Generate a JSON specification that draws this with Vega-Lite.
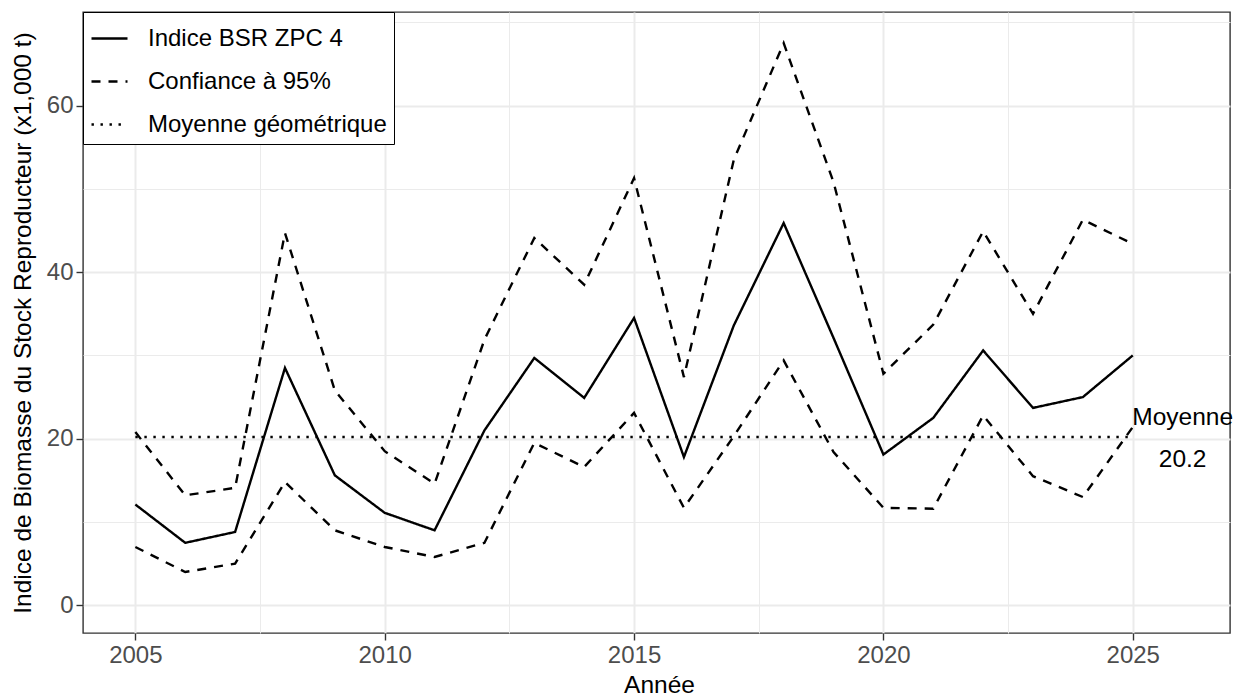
{
  "$schema": "https://vega.github.io/schema/vega-lite/v6.json",
  "autosize": "none",
  "width": 1147,
  "height": 621,
  "padding": {"left": 83, "top": 12, "right": 8, "bottom": 63},
  "background": "white",
  "config": {
    "font": "Liberation Sans",
    "view": {"stroke": "#333333", "strokeWidth": 1.4},
    "axis": {
      "domain": false,
      "tickColor": "#333333",
      "tickWidth": 1.4,
      "tickSize": 7,
      "labelColor": "#4D4D4D",
      "labelFont": "Liberation Sans",
      "labelFontSize": 24,
      "labelPadding": 3,
      "titleFont": "Liberation Sans",
      "titleFontSize": 24.5,
      "titleFontWeight": "normal",
      "titleColor": "black",
      "gridColor": "#EBEBEB"
    }
  },
  "datasets": {
    "bsr": [
      {"annee": 2005, "valeur": 12.1, "serie": "Indice BSR ZPC 4", "groupe": "indice"},
      {"annee": 2006, "valeur": 7.5, "serie": "Indice BSR ZPC 4", "groupe": "indice"},
      {"annee": 2007, "valeur": 8.8, "serie": "Indice BSR ZPC 4", "groupe": "indice"},
      {"annee": 2008, "valeur": 28.5, "serie": "Indice BSR ZPC 4", "groupe": "indice"},
      {"annee": 2009, "valeur": 15.6, "serie": "Indice BSR ZPC 4", "groupe": "indice"},
      {"annee": 2010, "valeur": 11.1, "serie": "Indice BSR ZPC 4", "groupe": "indice"},
      {"annee": 2011, "valeur": 9.0, "serie": "Indice BSR ZPC 4", "groupe": "indice"},
      {"annee": 2012, "valeur": 21.0, "serie": "Indice BSR ZPC 4", "groupe": "indice"},
      {"annee": 2013, "valeur": 29.7, "serie": "Indice BSR ZPC 4", "groupe": "indice"},
      {"annee": 2014, "valeur": 24.9, "serie": "Indice BSR ZPC 4", "groupe": "indice"},
      {"annee": 2015, "valeur": 34.5, "serie": "Indice BSR ZPC 4", "groupe": "indice"},
      {"annee": 2016, "valeur": 17.8, "serie": "Indice BSR ZPC 4", "groupe": "indice"},
      {"annee": 2017, "valeur": 33.6, "serie": "Indice BSR ZPC 4", "groupe": "indice"},
      {"annee": 2018, "valeur": 45.9, "serie": "Indice BSR ZPC 4", "groupe": "indice"},
      {"annee": 2019, "valeur": 32.1, "serie": "Indice BSR ZPC 4", "groupe": "indice"},
      {"annee": 2020, "valeur": 18.1, "serie": "Indice BSR ZPC 4", "groupe": "indice"},
      {"annee": 2021, "valeur": 22.5, "serie": "Indice BSR ZPC 4", "groupe": "indice"},
      {"annee": 2022, "valeur": 30.6, "serie": "Indice BSR ZPC 4", "groupe": "indice"},
      {"annee": 2023, "valeur": 23.7, "serie": "Indice BSR ZPC 4", "groupe": "indice"},
      {"annee": 2024, "valeur": 25.0, "serie": "Indice BSR ZPC 4", "groupe": "indice"},
      {"annee": 2025, "valeur": 30.0, "serie": "Indice BSR ZPC 4", "groupe": "indice"},
      {"annee": 2005, "valeur": 7.0, "serie": "Confiance à 95%", "groupe": "inf"},
      {"annee": 2006, "valeur": 4.0, "serie": "Confiance à 95%", "groupe": "inf"},
      {"annee": 2007, "valeur": 5.0, "serie": "Confiance à 95%", "groupe": "inf"},
      {"annee": 2008, "valeur": 14.8, "serie": "Confiance à 95%", "groupe": "inf"},
      {"annee": 2009, "valeur": 9.0, "serie": "Confiance à 95%", "groupe": "inf"},
      {"annee": 2010, "valeur": 7.0, "serie": "Confiance à 95%", "groupe": "inf"},
      {"annee": 2011, "valeur": 5.8, "serie": "Confiance à 95%", "groupe": "inf"},
      {"annee": 2012, "valeur": 7.5, "serie": "Confiance à 95%", "groupe": "inf"},
      {"annee": 2013, "valeur": 19.5, "serie": "Confiance à 95%", "groupe": "inf"},
      {"annee": 2014, "valeur": 16.6, "serie": "Confiance à 95%", "groupe": "inf"},
      {"annee": 2015, "valeur": 23.1, "serie": "Confiance à 95%", "groupe": "inf"},
      {"annee": 2016, "valeur": 11.7, "serie": "Confiance à 95%", "groupe": "inf"},
      {"annee": 2017, "valeur": 20.3, "serie": "Confiance à 95%", "groupe": "inf"},
      {"annee": 2018, "valeur": 29.4, "serie": "Confiance à 95%", "groupe": "inf"},
      {"annee": 2019, "valeur": 18.4, "serie": "Confiance à 95%", "groupe": "inf"},
      {"annee": 2020, "valeur": 11.7, "serie": "Confiance à 95%", "groupe": "inf"},
      {"annee": 2021, "valeur": 11.6, "serie": "Confiance à 95%", "groupe": "inf"},
      {"annee": 2022, "valeur": 22.8, "serie": "Confiance à 95%", "groupe": "inf"},
      {"annee": 2023, "valeur": 15.5, "serie": "Confiance à 95%", "groupe": "inf"},
      {"annee": 2024, "valeur": 13.0, "serie": "Confiance à 95%", "groupe": "inf"},
      {"annee": 2025, "valeur": 21.4, "serie": "Confiance à 95%", "groupe": "inf"},
      {"annee": 2005, "valeur": 20.8, "serie": "Confiance à 95%", "groupe": "sup"},
      {"annee": 2006, "valeur": 13.2, "serie": "Confiance à 95%", "groupe": "sup"},
      {"annee": 2007, "valeur": 14.1, "serie": "Confiance à 95%", "groupe": "sup"},
      {"annee": 2008, "valeur": 44.7, "serie": "Confiance à 95%", "groupe": "sup"},
      {"annee": 2009, "valeur": 25.8, "serie": "Confiance à 95%", "groupe": "sup"},
      {"annee": 2010, "valeur": 18.5, "serie": "Confiance à 95%", "groupe": "sup"},
      {"annee": 2011, "valeur": 14.6, "serie": "Confiance à 95%", "groupe": "sup"},
      {"annee": 2012, "valeur": 31.9, "serie": "Confiance à 95%", "groupe": "sup"},
      {"annee": 2013, "valeur": 44.1, "serie": "Confiance à 95%", "groupe": "sup"},
      {"annee": 2014, "valeur": 38.5, "serie": "Confiance à 95%", "groupe": "sup"},
      {"annee": 2015, "valeur": 51.3, "serie": "Confiance à 95%", "groupe": "sup"},
      {"annee": 2016, "valeur": 27.4, "serie": "Confiance à 95%", "groupe": "sup"},
      {"annee": 2017, "valeur": 53.5, "serie": "Confiance à 95%", "groupe": "sup"},
      {"annee": 2018, "valeur": 67.5, "serie": "Confiance à 95%", "groupe": "sup"},
      {"annee": 2019, "valeur": 50.8, "serie": "Confiance à 95%", "groupe": "sup"},
      {"annee": 2020, "valeur": 27.8, "serie": "Confiance à 95%", "groupe": "sup"},
      {"annee": 2021, "valeur": 33.7, "serie": "Confiance à 95%", "groupe": "sup"},
      {"annee": 2022, "valeur": 44.9, "serie": "Confiance à 95%", "groupe": "sup"},
      {"annee": 2023, "valeur": 35.0, "serie": "Confiance à 95%", "groupe": "sup"},
      {"annee": 2024, "valeur": 46.3, "serie": "Confiance à 95%", "groupe": "sup"},
      {"annee": 2025, "valeur": 43.4, "serie": "Confiance à 95%", "groupe": "sup"}
    ],
    "moyenne": [
      {"debut": 2005, "fin": 2025, "valeur": 20.2, "serie": "Moyenne géométrique"}
    ],
    "etiquette": [
      {"annee": 2026, "valeur": 20.2, "texte": "Moyenne\n20.2"}
    ]
  },
  "layer": [
    {
      "data": {"name": "moyenne"},
      "mark": {"type": "rule", "strokeWidth": 2.4, "strokeCap": "butt", "color": "black"},
      "encoding": {
        "x": {
          "field": "debut", "type": "quantitative",
          "scale": {"domain": [2003.95, 2026.95], "nice": false, "zero": false},
          "axis": {"orient": "bottom", "values": [2002.5, 2007.5, 2012.5, 2017.5, 2022.5], "grid": true, "gridWidth": 1, "labels": false, "ticks": false, "title": null}
        },
        "x2": {"field": "fin"},
        "y": {
          "field": "valeur", "type": "quantitative",
          "scale": {"domain": [-3.33, 71.24], "nice": false, "zero": false},
          "axis": {"orient": "left", "values": [10, 30, 50, 70], "grid": true, "gridWidth": 1, "labels": false, "ticks": false, "title": null}
        },
        "strokeDash": {
          "field": "serie", "type": "nominal",
          "scale": {"domain": ["Indice BSR ZPC 4", "Confiance à 95%", "Moyenne géométrique"], "range": [[1, 0], [9, 8], [2.4, 6.6]]},
          "legend": {
            "title": null, "orient": "none", "legendX": 0, "legendY": 0,
            "symbolType": "stroke", "symbolSize": 1296, "symbolStrokeWidth": 2.4, "symbolStrokeColor": "black",
            "labelFont": "Liberation Sans", "labelFontSize": 24, "labelColor": "black", "labelOffset": 19, "labelLimit": 500,
            "rowPadding": 11, "padding": 7, "strokeColor": "black", "fillColor": "white", "cornerRadius": 0
          }
        }
      }
    },
    {
      "data": {"name": "bsr"},
      "mark": {"type": "line", "strokeWidth": 2.4, "strokeCap": "butt", "color": "black"},
      "encoding": {
        "x": {
          "field": "annee", "type": "quantitative",
          "axis": {"orient": "bottom", "values": [2005, 2010, 2015, 2020, 2025], "format": "d", "grid": true, "gridWidth": 2, "title": "Année", "titleX": 576, "titleY": 59, "titleBaseline": "alphabetic", "titleAlign": "center"}
        },
        "y": {
          "field": "valeur", "type": "quantitative",
          "axis": {"orient": "left", "values": [0, 20, 40, 60], "grid": true, "gridWidth": 2, "title": "Indice de Biomasse du Stock Reproducteur (x1,000 t)", "titleX": -60, "titleY": 310.5, "titleAngle": 270, "titleBaseline": "middle", "titleAlign": "center"}
        },
        "detail": {"field": "groupe", "type": "nominal"},
        "strokeDash": {"field": "serie", "type": "nominal"}
      }
    },
    {
      "data": {"name": "etiquette"},
      "mark": {"type": "text", "fontSize": 24.5, "font": "Liberation Sans", "color": "black", "lineBreak": "\n", "lineHeight": 42, "align": "center", "baseline": "middle", "dy": -19},
      "encoding": {
        "x": {"field": "annee", "type": "quantitative", "axis": null},
        "y": {"field": "valeur", "type": "quantitative", "axis": null},
        "text": {"field": "texte"}
      }
    }
  ],
  "resolve": {"axis": {"x": "independent", "y": "independent"}}
}
